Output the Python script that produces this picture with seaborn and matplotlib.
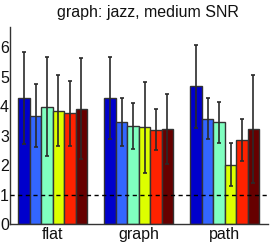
import pandas as pd
import numpy as np
from matplotlib import pyplot as plt
import seaborn as sns

# groups on the x axis and the six conditions inside each group
groups = ["flat", "graph", "path"]
conditions = ["c1", "c2", "c3", "c4", "c5", "c6"]
colors = ["#0000CC", "#3366FF", "#80FFC0", "#DDFF00", "#FF2200", "#660000"]

# bar heights, one list per group (condition order)
flat_vals = [4.28, 3.68, 3.99, 3.85, 3.76, 3.92]
graph_vals = [4.28, 3.46, 3.34, 3.28, 3.21, 3.23]
path_vals = [4.68, 3.58, 3.45, 2.02, 2.85, 3.22]

# half lengths of the error bars
flat_err = [1.55, 1.07, 1.67, 1.20, 1.11, 1.72]
graph_err = [1.40, 0.82, 0.78, 1.56, 0.70, 1.19]
path_err = [1.41, 0.70, 0.69, 0.74, 0.72, 1.84]

vals = [flat_vals, graph_vals, path_vals]
errs = [flat_err, graph_err, path_err]

rows = []
for g, v in zip(groups, vals):
    for c, y in zip(conditions, v):
        rows.append({"group": g, "cond": c, "score": y})
df = pd.DataFrame(rows)

sns.set_style("white")
plt.rcParams['font.family'] = ['Liberation Sans', 'DejaVu Sans']

fig = plt.figure(figsize=(2.7, 2.43), dpi=100)
ax = fig.add_axes([0.036, 0.078, 0.956, 0.812])

sns.barplot(data=df, x="group", y="score", hue="cond", order=groups,
            hue_order=conditions, palette=colors, errorbar=None,
            edgecolor="#333333", linewidth=1, saturation=1, legend=False, ax=ax)

# error bars on top of each bar
bar_conts = list(ax.containers)
for j, cont in enumerate(bar_conts):
    for i, bar in enumerate(cont):
        xc = bar.get_x() + bar.get_width() / 2
        ax.errorbar(xc, bar.get_height(), yerr=errs[i][j], color="#2a2a2a",
                    lw=1.2, capsize=1.6, capthick=1.2, zorder=5)

ax.axhline(1, color="black", ls="--", lw=1, dashes=(3, 2.5), zorder=6)

ax.set_xlim(-0.5, 2.5)
ax.set_ylim(0, 6.7)
ax.set_yticks([0, 1, 2, 3, 4, 5, 6])
ax.set_xlabel("")
ax.set_ylabel("")
ax.tick_params(axis="both", length=0, labelsize=11.5, pad=0.5, labelcolor="#111111")
ax.tick_params(axis="x", pad=2)
for s in ["top", "right"]:
    ax.spines[s].set_visible(False)
for s in ["left", "bottom"]:
    ax.spines[s].set_color("#333333")
    ax.spines[s].set_linewidth(1)

ax.set_title("graph: jazz, medium SNR", fontsize=11.5, x=0.536, y=1.005, color="#111111")

fig.savefig("out.png", dpi=100)
